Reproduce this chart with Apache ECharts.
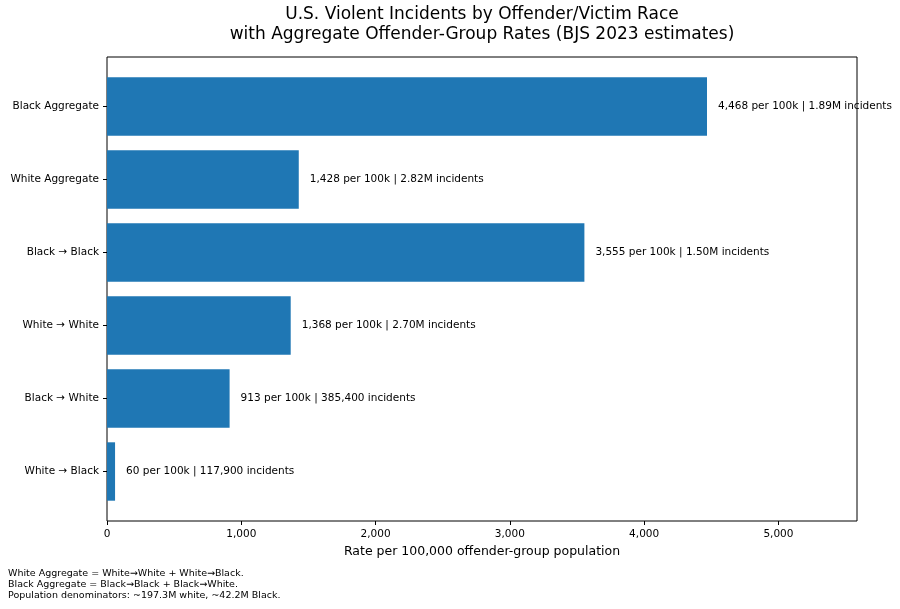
<!DOCTYPE html>
<html>
<head>
<meta charset="utf-8">
<script src="https://cdn.jsdelivr.net/npm/echarts@6/dist/echarts.min.js"></script>
<style>
html, body { margin: 0; padding: 0; background: #fff; }
#chart { width: 900px; height: 609px; }
</style>
</head>
<body>
<div id="chart"></div>
<script>
// categories top to bottom
var categories = ['Black Aggregate', 'White Aggregate', 'Black \u2192 Black', 'White \u2192 White', 'Black \u2192 White', 'White \u2192 Black'];
// rate per 100k of offender-group population
var rates = [4468, 1428, 3555, 1368, 913, 60];
// incident counts
var incidents = [1890000, 2820000, 1500000, 2700000, 385400, 117900];
var xTicks = [0, 1000, 2000, 3000, 4000, 5000];
var xMax = 5585;
var notes = [
	'White Aggregate = White\u2192White + White\u2192Black.',
	'Black Aggregate = Black\u2192Black + Black\u2192White.',
	'Population denominators: ~197.3M white, ~42.2M Black.'
];

var FONT = 'DejaVu Sans';

function commas(v) {
	return String(v).replace(/\B(?=(\d{3})+(?!\d))/g, ',');
}
function fmtIncidents(v) {
	if(v >= 1000000) return (v / 1000000).toFixed(2) + 'M';
	return commas(v);
}

var chart = echarts.init(document.getElementById('chart'), null, { renderer: 'canvas' });

chart.setOption({
	animation: false,
	backgroundColor: '#fff',
	textStyle: { fontFamily: FONT },
	title: [{
		text: 'U.S. Violent Incidents by Offender/Victim Race\nwith Aggregate Offender-Group Rates (BJS 2023 estimates)',
		left: 482,
		top: 5,
		padding: 0,
		textAlign: 'center',
		textStyle: { fontFamily: FONT, fontSize: 17, fontWeight: 'normal', color: '#000', lineHeight: 19.5 }
	}, {
		text: notes.join('\n'),
		left: 8,
		top: 568,
		padding: 0,
		textStyle: { fontFamily: FONT, fontSize: 9.5, fontWeight: 'normal', color: '#000', lineHeight: 11.2 }
	}],
	grid: [
		// frame
		{ left: 107, right: 43, top: 57, bottom: 88, show: true, borderColor: '#000', borderWidth: 1, backgroundColor: 'transparent' },
		// bars
		{ left: 107, right: 43, top: 70, bottom: 101 }
	],
	xAxis: [{
		gridIndex: 0,
		type: 'value',
		min: 0,
		max: xMax,
		axisLine: { show: false },
		axisTick: { show: true, length: 4, customValues: xTicks, lineStyle: { color: '#000' } },
		axisLabel: {
			customValues: xTicks,
			margin: 8,
			color: '#000',
			fontSize: 10.5,
			fontFamily: FONT,
			formatter: function(v) { return commas(v); }
		},
		splitLine: { show: false },
		name: 'Rate per 100,000 offender-group population',
		nameLocation: 'middle',
		nameGap: 21,
		nameTextStyle: { color: '#000', fontSize: 12.5, fontFamily: FONT }
	}, {
		gridIndex: 1,
		type: 'value',
		min: 0,
		max: xMax,
		show: false
	}],
	yAxis: [{
		gridIndex: 0,
		type: 'value',
		show: false
	}, {
		gridIndex: 1,
		type: 'category',
		inverse: true,
		data: categories,
		axisLine: { show: false },
		axisTick: { show: true, length: 4, alignWithLabel: true, lineStyle: { color: '#000' } },
		axisLabel: { color: '#000', fontSize: 10.5, fontFamily: FONT, margin: 8 },
		splitLine: { show: false }
	}],
	series: [{
		type: 'bar',
		xAxisIndex: 1,
		yAxisIndex: 1,
		barWidth: '80%',
		itemStyle: { color: '#1f77b4' },
		label: {
			show: true,
			position: 'right',
			distance: 11,
			color: '#000',
			fontSize: 10.5,
			fontFamily: FONT,
			formatter: function(p) {
				return commas(rates[p.dataIndex]) + ' per 100k | ' + fmtIncidents(incidents[p.dataIndex]) + ' incidents';
			}
		},
		data: rates
	}]
});
</script>
</body>
</html>
